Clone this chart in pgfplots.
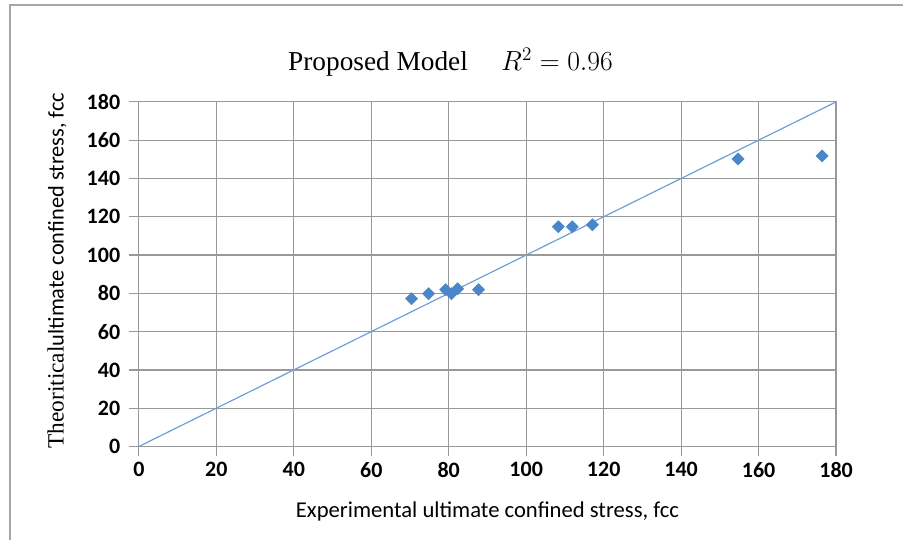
\documentclass[border=0pt]{standalone}
\usepackage{pgfplots}
\pgfplotsset{compat=1.18}
\usepackage{fontspec}
\setmainfont{Carlito}
\newfontfamily\seriffont{Liberation Serif}
\definecolor{ptblue}{RGB}{74,134,200}
\definecolor{lnblue}{RGB}{110,160,215}
\begin{document}
\begin{tikzpicture}[x=0.75pt,y=0.75pt]
\path (0,0) rectangle (904,541);
\draw[gray!70,line width=1.5pt] (10,0) -- (10,536) -- (904,536);
\begin{axis}[
  at={(104.25pt,70.5pt)}, anchor=origin,
  scale only axis,
  width=523.5pt, height=258.75pt,
  xmin=0, xmax=180, ymin=0, ymax=180,
  xtick={0,20,...,180}, ytick={0,20,...,180},
  grid=major,
  grid style={gray!80, line width=0.9pt},
  axis line style={gray!80, line width=0.9pt},
  tick style={gray!80, line width=0.9pt},
  tick align=outside, major tick length=7.5pt,
  xtick pos=bottom, ytick pos=left,
  /pgf/number format/assume math mode=true,
  ticklabel style={font=\fontsize{16.5}{18}\selectfont\bfseries},
  xticklabel style={yshift=-1pt},
  yticklabel style={xshift=-3pt},
  clip=false,
]
\addplot[lnblue, line width=0.9pt, no marks] coordinates {(0,0) (180,180)};
\addplot[only marks, mark=square*, mark size=3.2pt, mark options={rotate=45, fill=ptblue, draw=ptblue}] coordinates {
(70.4,77.2) (74.8,79.8) (79.2,81.9) (80.7,79.8) (82.3,82.4) (87.7,81.9)
(108.3,114.8) (111.9,114.8) (117.1,115.8) (154.7,150.2) (176.4,151.8)};
\end{axis}
\node[font=\fontsize{20.5}{23}\selectfont] at (451,479) {{\seriffont Proposed Model}\hspace{25pt}$R^2=0.96$};
\node[font=\fontsize{17}{19}\selectfont] at (488,29) {Experimental ultimate confined stress, fcc};
\node[rotate=90, font=\fontsize{16.8}{18}\selectfont] at (57,270) {{\seriffont\fontsize{17.5}{19}\selectfont Theoritical}ultimate confined stress, fcc};
\end{tikzpicture}
\end{document}
